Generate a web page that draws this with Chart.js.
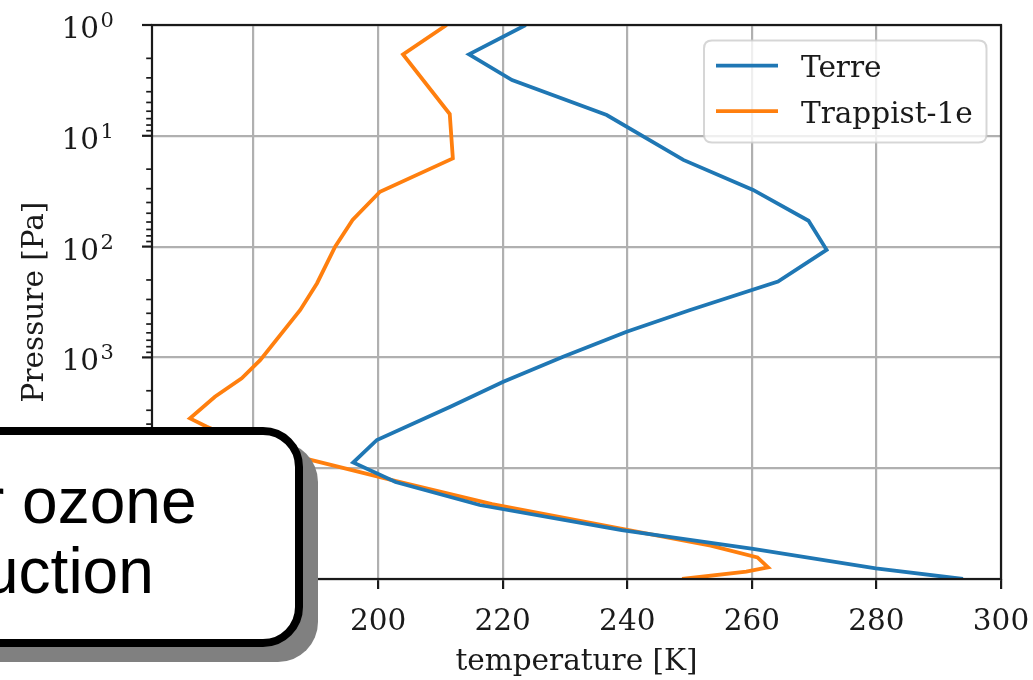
<!DOCTYPE html>
<html>
<head>
<meta charset="utf-8">
<script src="https://cdn.jsdelivr.net/npm/chart.js@4"></script>
<style>
  html, body { margin: 0; padding: 0; background: #fff; overflow: hidden; }
  #wrap { position: relative; width: 1033px; height: 680px; }
  #note {
    position: absolute; left: -60px; top: 427px; width: 363px; height: 220px;
    box-sizing: border-box; border: 8px solid #000; border-radius: 40px;
    background: #fff; box-shadow: 15px 15px 0 #808080;
  }
  #note .ln {
    position: absolute; left: 35px; font: 64px "Liberation Sans", Arial, sans-serif;
    line-height: 70px; white-space: nowrap; color: #000;
  }
</style>
</head>
<body>
<div id="wrap">
  <canvas id="chart" width="1033" height="680"></canvas>
  <div id="note">
    <div class="ln" style="top:31px">r ozone</div>
    <div class="ln" style="top:101px">uction</div>
  </div>
</div>
<script>
// profils de temperature (K) en fonction de la pression (Pa)
const terrePressure = [1, 1.84, 3.14, 6.49, 16.5, 30.8, 58.4, 107, 207, 373, 586, 986, 1656, 2786, 5565, 8892, 13340, 21490, 36130, 53600, 80200, 100000];
const terreTemp = [223.7, 214.6, 221.5, 236.7, 249.0, 260.2, 269.1, 272.0, 264.2, 250.1, 239.9, 229.7, 220.1, 211.6, 199.8, 196.0, 202.8, 216.3, 239.1, 260.2, 279.9, 293.9];

const trappistPressure = [1, 1.84, 6.36, 16.0, 32.0, 57.5, 100, 214, 373, 1055, 1543, 2264, 3548, 4220, 6170, 13060, 21090, 35880, 50030, 63840, 78530, 85900, 100000];
const trappistTemp = [211.0, 204.0, 211.5, 212.0, 200.3, 195.9, 193.1, 190.2, 187.5, 181.1, 178.1, 173.8, 169.8, 172.5, 179.5, 202.9, 218.3, 239.8, 253.4, 260.9, 262.6, 259.1, 248.8];

const tempTicks = [180, 200, 220, 240, 260, 280, 300];
const pressureTicks = [1, 10, 100, 1000, 10000, 100000];
const pressureExponents = ["0", "1", "2", "3", "4", "5"];

const serif = '"DejaVu Serif", serif';
const ink = "#1a1a1a";

function toPoints(temps, pres) {
  return temps.map((t, i) => ({ x: t, y: pres[i] }));
}

// minor ticks 2..9 per decade for the log axis
function logTicks() {
  const out = [];
  for (let d = 0; d < pressureTicks.length; d++) {
    const base = pressureTicks[d];
    out.push({ value: base, major: true });
    if (d < pressureTicks.length - 1) {
      for (let m = 2; m <= 9; m++) out.push({ value: base * m, major: false });
    }
  }
  return out;
}

const framePlugin = {
  id: "frame",
  afterDatasetsDraw(chart) {
    const { ctx, chartArea: a, scales } = chart;
    const y = scales.y;
    ctx.save();
    ctx.strokeStyle = ink;
    ctx.lineWidth = 2.2;
    ctx.strokeRect(a.left, a.top, a.right - a.left, a.bottom - a.top);

    y.ticks.forEach(t => {
      const py = y.getPixelForValue(t.value);
      const len = t.major ? 10 : 5.8;
      ctx.lineWidth = t.major ? 2.2 : 1.7;
      ctx.beginPath();
      ctx.moveTo(a.left - len, py);
      ctx.lineTo(a.left, py);
      ctx.stroke();
    });

    ctx.fillStyle = ink;
    ctx.textBaseline = "alphabetic";
    pressureTicks.forEach((v, i) => {
      const py = y.getPixelForValue(v);
      ctx.font = "29.5px " + serif;
      ctx.textAlign = "right";
      ctx.fillText("10", 99, py + 13);
      ctx.font = "21px " + serif;
      ctx.textAlign = "left";
      ctx.fillText(pressureExponents[i], 100.5, py + 2);
    });

    // legend
    const bx = 704, by = 40.5, bw = 282.5, bh = 102, r = 8;
    ctx.beginPath();
    ctx.moveTo(bx + r, by);
    ctx.lineTo(bx + bw - r, by);
    ctx.quadraticCurveTo(bx + bw, by, bx + bw, by + r);
    ctx.lineTo(bx + bw, by + bh - r);
    ctx.quadraticCurveTo(bx + bw, by + bh, bx + bw - r, by + bh);
    ctx.lineTo(bx + r, by + bh);
    ctx.quadraticCurveTo(bx, by + bh, bx, by + bh - r);
    ctx.lineTo(bx, by + r);
    ctx.quadraticCurveTo(bx, by, bx + r, by);
    ctx.closePath();
    ctx.fillStyle = "rgba(255,255,255,0.8)";
    ctx.fill();
    ctx.strokeStyle = "rgba(204,204,204,0.8)";
    ctx.lineWidth = 2;
    ctx.stroke();

    chart.data.datasets.forEach((ds, i) => {
      const ly = 65.6 + i * 45.5;
      ctx.strokeStyle = ds.borderColor;
      ctx.lineWidth = ds.borderWidth;
      ctx.beginPath();
      ctx.moveTo(716, ly);
      ctx.lineTo(778, ly);
      ctx.stroke();
      ctx.fillStyle = ink;
      ctx.font = "29.5px " + serif;
      ctx.textAlign = "left";
      ctx.fillText(ds.label, 801, ly + 11.5);
    });
    ctx.restore();
  }
};

Chart.defaults.font.family = serif;
Chart.defaults.font.size = 29.5;
Chart.defaults.color = ink;

new Chart(document.getElementById("chart"), {
  type: "scatter",
  data: {
    datasets: [
      {
        label: "Terre",
        data: toPoints(terreTemp, terrePressure),
        showLine: true,
        borderColor: "#1f77b4",
        backgroundColor: "#1f77b4",
        borderWidth: 3.8,
        pointRadius: 0,
        tension: 0
      },
      {
        label: "Trappist-1e",
        data: toPoints(trappistTemp, trappistPressure),
        showLine: true,
        borderColor: "#ff7f0e",
        backgroundColor: "#ff7f0e",
        borderWidth: 3.8,
        pointRadius: 0,
        tension: 0
      }
    ]
  },
  options: {
    responsive: false,
    animation: false,
    devicePixelRatio: 1,
    layout: { padding: { top: 25, right: 32, left: 0, bottom: 0 } },
    plugins: { legend: { display: false }, tooltip: { enabled: false } },
    scales: {
      x: {
        type: "linear",
        position: "bottom",
        min: 163.7,
        max: 300,
        afterBuildTicks: s => { s.ticks = tempTicks.map(v => ({ value: v })); },
        afterFit: s => { s.height = 101; s.paddingLeft = 0; s.paddingRight = 0; },
        grid: { color: "#b0b0b0", lineWidth: 2.2, tickColor: ink, tickLength: 10, tickWidth: 2.2 },
        border: { display: false },
        ticks: { padding: 16, maxRotation: 0 },
        title: { display: true, text: "temperature [K]", padding: { top: 0, bottom: 0 } }
      },
      y: {
        type: "logarithmic",
        position: "left",
        reverse: true,
        min: 1,
        max: 100000,
        afterBuildTicks: s => { s.ticks = logTicks(); },
        afterFit: s => { s.width = 152; s.paddingTop = 0; s.paddingBottom = 0; },
        grid: {
          color: c => (c.tick && c.tick.major ? "#b0b0b0" : "rgba(0,0,0,0)"),
          lineWidth: 2.2,
          drawTicks: false
        },
        border: { display: false },
        ticks: { display: false },
        title: { display: true, text: "Pressure [Pa]", padding: { top: 18, bottom: 0 } }
      }
    }
  },
  plugins: [framePlugin]
});
</script>
</body>
</html>
